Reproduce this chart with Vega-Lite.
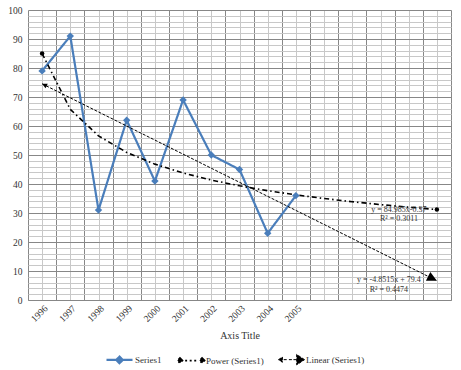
{
  "$schema": "https://vega.github.io/schema/vega-lite/v6.json",
  "width": 423,
  "height": 290,
  "autosize": {"type": "none"},
  "padding": {"left": 28, "top": 10, "right": 10, "bottom": 70},
  "background": "white",
  "config": {"view": {"stroke": null}, "font": "Liberation Serif"},
  "datasets": {
    "main": [
      {"series": "Series1", "x": 1, "y": 79},
      {"series": "Series1", "x": 2, "y": 91},
      {"series": "Series1", "x": 3, "y": 31},
      {"series": "Series1", "x": 4, "y": 62},
      {"series": "Series1", "x": 5, "y": 41},
      {"series": "Series1", "x": 6, "y": 69},
      {"series": "Series1", "x": 7, "y": 50},
      {"series": "Series1", "x": 8, "y": 45},
      {"series": "Series1", "x": 9, "y": 23},
      {"series": "Series1", "x": 10, "y": 36},
      {"series": "Power (Series1)", "x": 1, "y": 84.99},
      {"series": "Power (Series1)", "x": 2, "y": 65.76},
      {"series": "Power (Series1)", "x": 3, "y": 56.6},
      {"series": "Power (Series1)", "x": 4, "y": 50.89},
      {"series": "Power (Series1)", "x": 5, "y": 46.85},
      {"series": "Power (Series1)", "x": 6, "y": 43.8},
      {"series": "Power (Series1)", "x": 7, "y": 41.37},
      {"series": "Power (Series1)", "x": 8, "y": 39.38},
      {"series": "Power (Series1)", "x": 9, "y": 37.69},
      {"series": "Power (Series1)", "x": 10, "y": 36.25},
      {"series": "Power (Series1)", "x": 11, "y": 35.0},
      {"series": "Power (Series1)", "x": 12, "y": 33.89},
      {"series": "Power (Series1)", "x": 13, "y": 32.9},
      {"series": "Power (Series1)", "x": 14, "y": 32.01},
      {"series": "Power (Series1)", "x": 15, "y": 31.2},
      {"series": "Linear (Series1)", "x": 1, "y": 74.55},
      {"series": "Linear (Series1)", "x": 15, "y": 6.63}
    ],
    "labels": [
      {"series": "Power (Series1)", "x": 15, "y": 31.2, "label": "y = 84.985x-0.37\nR² = 0.3011"},
      {"series": "Linear (Series1)", "x": 15, "y": 6.63, "label": "y = -4.8515x + 79.4\nR² = 0.4474"}
    ]
  },
  "layer": [
    {
      "data": {"name": "main"},
      "mark": {"type": "line"},
      "encoding": {
        "x": {
          "field": "x", "type": "quantitative",
          "scale": {"domain": [0.5, 15.5], "nice": false, "zero": false},
          "axis": {
            "values": [0.5,1,1.5,2,2.5,3,3.5,4,4.5,5,5.5,6,6.5,7,7.5,8,8.5,9,9.5,10,10.5,11,11.5,12,12.5,13,13.5,14,14.5,15,15.5],
            "tickCount": 200,
            "labelExpr": "datum.value % 1 == 0 && datum.value <= 10 ? '' + (1995 + datum.value) : ''",
            "labelAngle": -45,
            "labelOverlap": false,
            "labelBound": false,
            "labelFlush": false,
            "labelFont": "Liberation Serif",
            "labelFontSize": 9.5,
            "labelColor": "#333333",
            "labelPadding": 3,
            "ticks": false,
            "domainColor": "#878787",
            "gridColor": {"condition": {"test": "datum.value % 1 == 0", "value": "#c8c8c8"}, "value": "#878787"},
            "title": "Axis Title",
            "titleFont": "Liberation Serif",
            "titleFontSize": 10,
            "titleFontWeight": "normal",
            "titleColor": "#333333",
            "titlePadding": 7
          }
        },
        "y": {
          "field": "y", "type": "quantitative",
          "scale": {"domain": [0, 100], "nice": false},
          "axis": {
            "values": [0,2,4,6,8,10,12,14,16,18,20,22,24,26,28,30,32,34,36,38,40,42,44,46,48,50,52,54,56,58,60,62,64,66,68,70,72,74,76,78,80,82,84,86,88,90,92,94,96,98,100],
            "tickCount": 200,
            "labelExpr": "datum.value % 10 == 0 ? '' + datum.value : ''",
            "labelOverlap": false,
            "labelBound": false,
            "labelFont": "Liberation Serif",
            "labelFontSize": 9.5,
            "labelColor": "#333333",
            "labelPadding": 6,
            "ticks": false,
            "domain": false,
            "gridColor": {"condition": {"test": "datum.value % 10 == 0", "value": "#878787"}, "value": "#c8c8c8"},
            "title": null
          }
        },
        "color": {
          "field": "series", "type": "nominal",
          "scale": {"domain": ["Series1", "Power (Series1)", "Linear (Series1)"], "range": ["#4a7ebb", "#000000", "#000000"]},
          "legend": {
            "title": null,
            "orient": "none",
            "legendX": 77,
            "legendY": 335,
            "direction": "horizontal",
            "symbolSize": 676,
            "columnPadding": 12,
            "labelFont": "Liberation Serif",
            "labelFontSize": 9,
            "labelColor": "#333333",
            "labelOffset": 1,
            "encode": {
              "symbols": {
                "update": {
                  "shape": {"signal": "datum.value === 'Series1' ? 'M-1,0H1M0,-0.25L0.25,0L0,0.25L-0.25,0Z' : datum.value === 'Power (Series1)' ? 'M-0.85,-0.2L-0.65,0L-0.85,0.2L-1.05,0ZM-0.45,0H-0.3M-0.1,0H0.05M0.25,0H0.4M0.85,-0.2L1.05,0L0.85,0.2L0.65,0Z' : 'M-1,0L-0.7,-0.2L-0.7,0.2ZM-0.6,0H-0.35M-0.2,0H0.05M0.15,0H0.4M1,0L0.4,-0.4L0.4,0.4Z'"},
                  "fill": {"signal": "datum.value === 'Series1' ? '#4a7ebb' : '#000000'"},
                  "stroke": {"signal": "datum.value === 'Series1' ? '#4a7ebb' : '#000000'"},
                  "strokeWidth": {"signal": "datum.value === 'Series1' ? 2 : 1"},
                  "strokeDash": {"value": [1, 0]},
                  "opacity": {"value": 1},
                  "fillOpacity": {"value": 1}
                }
              }
            }
          }
        },
        "strokeDash": {
          "field": "series", "type": "nominal",
          "scale": {"domain": ["Series1", "Power (Series1)", "Linear (Series1)"], "range": [[1, 0], [5, 3, 1.5, 3], [3, 1.5]]},
          "legend": null
        },
        "strokeWidth": {
          "field": "series", "type": "ordinal",
          "scale": {"domain": ["Series1", "Power (Series1)", "Linear (Series1)"], "range": [2.2, 1, 0.9]},
          "legend": null
        }
      }
    },
    {
      "data": {"name": "main"},
      "transform": [{"filter": "datum.series === 'Series1'"}],
      "mark": {"type": "point", "shape": "diamond", "filled": true, "size": 55, "color": "#4a7ebb", "opacity": 1},
      "encoding": {
        "x": {"field": "x", "type": "quantitative"},
        "y": {"field": "y", "type": "quantitative"}
      }
    },
    {
      "data": {"name": "main"},
      "transform": [{"filter": "datum.series === 'Power (Series1)' && (datum.x == 1 || datum.x == 15)"}],
      "mark": {"type": "point", "shape": "circle", "filled": true, "size": 20, "color": "#000000", "opacity": 1},
      "encoding": {
        "x": {"field": "x", "type": "quantitative"},
        "y": {"field": "y", "type": "quantitative"}
      }
    },
    {
      "data": {"name": "main"},
      "transform": [{"filter": "datum.series === 'Linear (Series1)' && datum.x == 1"}],
      "mark": {"type": "point", "shape": "M0,0L1.6,-0.8L1.6,0.8Z", "angle": 26.5, "filled": true, "size": 40, "color": "#000000", "opacity": 1},
      "encoding": {
        "x": {"field": "x", "type": "quantitative"},
        "y": {"field": "y", "type": "quantitative"}
      }
    },
    {
      "data": {"name": "main"},
      "transform": [{"filter": "datum.series === 'Linear (Series1)' && datum.x == 15"}],
      "mark": {"type": "point", "shape": "M0,0L-1.6,-0.8L-1.6,0.8Z", "angle": 26.5, "filled": true, "size": 150, "color": "#000000", "opacity": 1},
      "encoding": {
        "x": {"field": "x", "type": "quantitative"},
        "y": {"field": "y", "type": "quantitative"}
      }
    },
    {
      "data": {"name": "labels"},
      "transform": [{"filter": "datum.series === 'Power (Series1)'"}],
      "mark": {"type": "text", "align": "center", "baseline": "middle", "dx": -38, "dy": 0, "lineBreak": "\n", "lineHeight": 9.5, "font": "Liberation Serif", "fontSize": 8, "color": "#333333"},
      "encoding": {
        "x": {"field": "x", "type": "quantitative"},
        "y": {"field": "y", "type": "quantitative"},
        "text": {"field": "label"}
      }
    },
    {
      "data": {"name": "labels"},
      "transform": [{"filter": "datum.series === 'Linear (Series1)'"}],
      "mark": {"type": "text", "align": "center", "baseline": "middle", "dx": -48, "dy": -1, "lineBreak": "\n", "lineHeight": 10, "font": "Liberation Serif", "fontSize": 8, "color": "#333333"},
      "encoding": {
        "x": {"field": "x", "type": "quantitative"},
        "y": {"field": "y", "type": "quantitative"},
        "text": {"field": "label"}
      }
    }
  ]
}
